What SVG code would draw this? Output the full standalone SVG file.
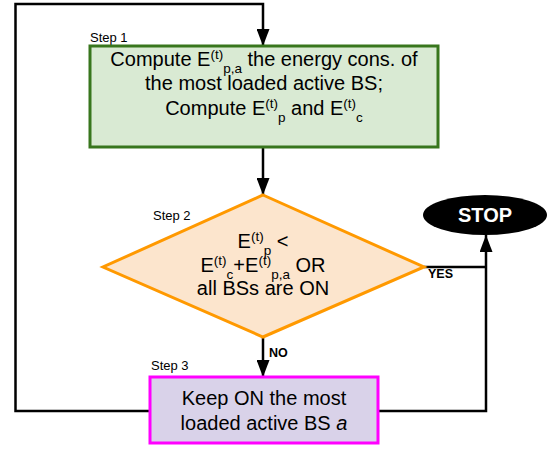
<svg xmlns="http://www.w3.org/2000/svg" width="558" height="453" viewBox="0 0 558 453">
<style>
.t{font-family:"Liberation Sans",Arial,sans-serif;fill:#000}
.main{font-size:20px}
.sm{font-size:13.5px}
.lbl{font-size:13px}
.yn{font-size:12.5px;font-weight:bold}
.conn{fill:none;stroke:#000;stroke-width:2.5}
</style>
<defs>
<marker id="arr" viewBox="0 0 17 13" refX="17" refY="6.5" markerWidth="17" markerHeight="13" markerUnits="userSpaceOnUse" orient="auto">
<path d="M0,0 L17,6.5 L0,13 z" fill="#000"/>
</marker>
</defs>
<rect width="558" height="453" fill="#fff"/>
<g id="connectors">
<path class="conn" d="M150,411 H15.5 V4 H263 V46" marker-end="url(#arr)"/>
<path class="conn" d="M263,147 V195" marker-end="url(#arr)"/>
<path class="conn" d="M263,337 V377" marker-end="url(#arr)"/>
<path class="conn" d="M424,267 H486"/>
<path class="conn" d="M378,411 H486 V235" marker-end="url(#arr)"/>
<text class="t yn" x="269" y="357">NO</text>
<text class="t yn" x="428" y="278">YES</text>
</g>
<g id="step1">
<text class="t lbl" x="90" y="42">Step 1</text>
<rect x="90" y="46" width="348" height="101" fill="#d9ead3" stroke="#38761d" stroke-width="3"/>
<text class="t main" x="264" y="66" text-anchor="middle">Compute E<tspan class="sm" dy="-7.5">(t)</tspan><tspan class="sm" dy="14">p,a</tspan><tspan dy="-6.5"> the energy cons. of</tspan></text>
<text class="t main" x="264" y="90" text-anchor="middle">the most loaded active BS;</text>
<text class="t main" x="264" y="115" text-anchor="middle">Compute E<tspan class="sm" dy="-7.5">(t)</tspan><tspan class="sm" dy="14">p</tspan><tspan dy="-6.5"> and E</tspan><tspan class="sm" dy="-7.5">(t)</tspan><tspan class="sm" dy="14">c</tspan></text>
</g>
<g id="step2">
<text class="t lbl" x="153" y="220">Step 2</text>
<polygon points="263,195 424,267 263,337 103,267" fill="#fce5cd" stroke="#ff9900" stroke-width="3" stroke-linejoin="miter"/>
<text class="t main" x="263" y="248" text-anchor="middle">E<tspan class="sm" dy="-7.5">(t)</tspan><tspan class="sm" dy="14">p</tspan><tspan dy="-6.5"> &lt;</tspan></text>
<text class="t main" x="263" y="272" text-anchor="middle">E<tspan class="sm" dy="-7.5">(t)</tspan><tspan class="sm" dy="14">c</tspan><tspan dy="-6.5">+E</tspan><tspan class="sm" dy="-7.5">(t)</tspan><tspan class="sm" dy="14">p,a</tspan><tspan dy="-6.5"> OR</tspan></text>
<text class="t main" x="263" y="295" text-anchor="middle">all BSs are ON</text>
</g>
<g id="stop">
<ellipse cx="485" cy="215" rx="62" ry="20" fill="#000"/>
<text class="t" x="485" y="222" text-anchor="middle" style="font-size:20px;font-weight:bold;fill:#fff">STOP</text>
</g>
<g id="step3">
<text class="t lbl" x="151" y="370">Step 3</text>
<rect x="150" y="377" width="228" height="66" fill="#d9d2e9" stroke="#ff00ff" stroke-width="3"/>
<text class="t main" x="264" y="405" text-anchor="middle">Keep ON the most</text>
<text class="t main" x="264" y="430" text-anchor="middle">loaded active BS <tspan font-style="italic">a</tspan></text>
</g>
</svg>
